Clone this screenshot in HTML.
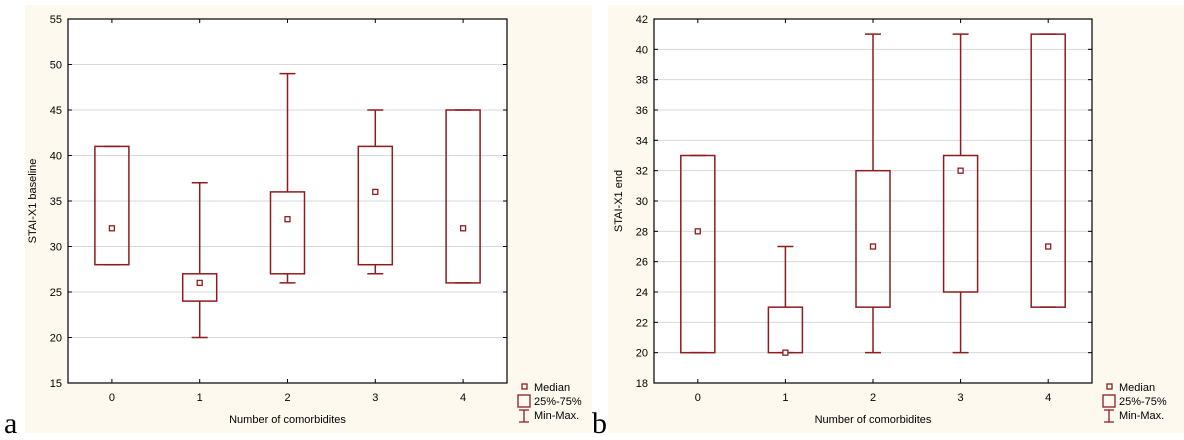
<!DOCTYPE html>
<html><head><meta charset="utf-8"><style>
body{margin:0;background:#fff;}
svg{display:block;font-family:"Liberation Sans",sans-serif;}
</style></head><body>
<svg id="s" width="1184" height="440">
<rect x="25" y="5" width="567" height="428" fill="#fdf9ef"/>
<rect x="608" y="5" width="576" height="428" fill="#fdf9ef"/>
<text x="4" y="433" font-family="Liberation Serif,serif" font-size="30">a</text>
<text x="592" y="433" font-family="Liberation Serif,serif" font-size="30">b</text>
</svg>
<script>
const categories=["0","1","2","3","4"];
const aMin=[28,20,26,27,26], aQ1=[28,24,27,28,26], aMed=[32,26,33,36,32], aQ3=[41,27,36,41,45], aMax=[41,37,49,45,45];
const aTicks=[15,20,25,30,35,40,45,50,55];
const bMin=[20,20,20,20,23], bQ1=[20,20,23,24,23], bMed=[28,20,27,32,27], bQ3=[33,23,32,33,41], bMax=[33,27,41,41,41];
const bTicks=[18,20,22,24,26,28,30,32,34,36,38,40,42];
const S=document.getElementById('s'),NS='http://www.w3.org/2000/svg',C='#8e1c1c';
function el(t,a,p){const e=document.createElementNS(NS,t);for(const k in a)e.setAttribute(k,a[k]);(p||S).appendChild(e);return e;}
function chart(pfx,L,R,T,B,ticks,mn,q1,md,q3,mx,ytitle){
 const lo=ticks[0],hi=ticks[ticks.length-1];
 const y=v=>B-(v-lo)/(hi-lo)*(B-T);
 const x=i=>L+(0.1+0.2*i)*(R-L);
 const g=el('g',{});
 
 
 const bg=el('rect',{x:L,y:T,width:R-L,height:B-T,fill:'#fff'},g);
 
 
 ticks.forEach(v=>{
  if(v!==lo&&v!==hi){const gl=el('line',{x1:L,x2:R,y1:y(v),y2:y(v),stroke:'#d8d8d8','stroke-width':1},g);
  
  }
  el('line',{x1:L,x2:L+4,y1:y(v),y2:y(v),stroke:'#000'},g);
  el('line',{x1:R,x2:R-4,y1:y(v),y2:y(v),stroke:'#000'},g);
  const t=el('text',{x:L-6,y:y(v)+4,'text-anchor':'end','font-size':11},g);t.textContent=v;
  
  
 });
 categories.forEach((c,i)=>{
  const cx=x(i);
  el('line',{x1:cx,x2:cx,y1:B,y2:B-4,stroke:'#000'},g);
  el('line',{x1:cx,x2:cx,y1:T,y2:T+4,stroke:'#000'},g);
  const t=el('text',{x:cx,y:B+18,'text-anchor':'middle','font-size':11},g);t.textContent=c;
  
  
  const w=el('path',{d:`M${cx},${y(mx[i])}V${y(q3[i])}M${cx},${y(q1[i])}V${y(mn[i])}M${cx-8},${y(mx[i])}H${cx+8}M${cx-8},${y(mn[i])}H${cx+8}`,stroke:C,'stroke-width':1.5,fill:'none'},g);
  
  
  const b=el('rect',{x:cx-17,y:y(q3[i]),width:34,height:Math.max(0,y(q1[i])-y(q3[i])),stroke:C,'stroke-width':1.5,fill:'none'},g);
  
  
  const m=el('rect',{x:cx-2.5,y:y(md[i])-2.5,width:5,height:5,stroke:C,'stroke-width':1.3,fill:'#fff'},g);
  
  
 });
 const fr=el('rect',{x:L,y:T,width:R-L,height:B-T,fill:'none',stroke:'#000','stroke-width':1.2},g);
 
 
 const xt=el('text',{x:(L+R)/2,y:B+40,'text-anchor':'middle','font-size':11},g);xt.textContent='Number of comorbidites';
 
 
 const yt=el('text',{transform:`translate(${L-32},${(T+B)/2}) rotate(-90)`,'text-anchor':'middle','font-size':11},g);yt.textContent=ytitle;
 
 
 const lg=el('g',{},g);
 
 
 const lx=R+10;
 el('rect',{x:lx+5,y:B+1,width:5,height:5,stroke:C,'stroke-width':1.3,fill:'none'},lg);
 el('rect',{x:lx+1,y:B+12,width:12,height:12,stroke:C,'stroke-width':1.3,fill:'none'},lg);
 el('path',{d:`M${lx+2},${B+27}H${lx+12}M${lx+7},${B+27}V${B+39}M${lx+2},${B+39}H${lx+12}`,stroke:C,'stroke-width':1.3},lg);
 [['Median',B+8],['25%-75%',B+22],['Min-Max.',B+36]].forEach(([s,yy])=>{const t=el('text',{x:lx+17,y:yy,'font-size':11},lg);t.textContent=s;});
}
chart('a',68,507,19,383,aTicks,aMin,aQ1,aMed,aQ3,aMax,'STAI-X1 baseline');
chart('b',654,1092,19,383,bTicks,bMin,bQ1,bMed,bQ3,bMax,'STAI-X1 end');
</script>
</body></html>
